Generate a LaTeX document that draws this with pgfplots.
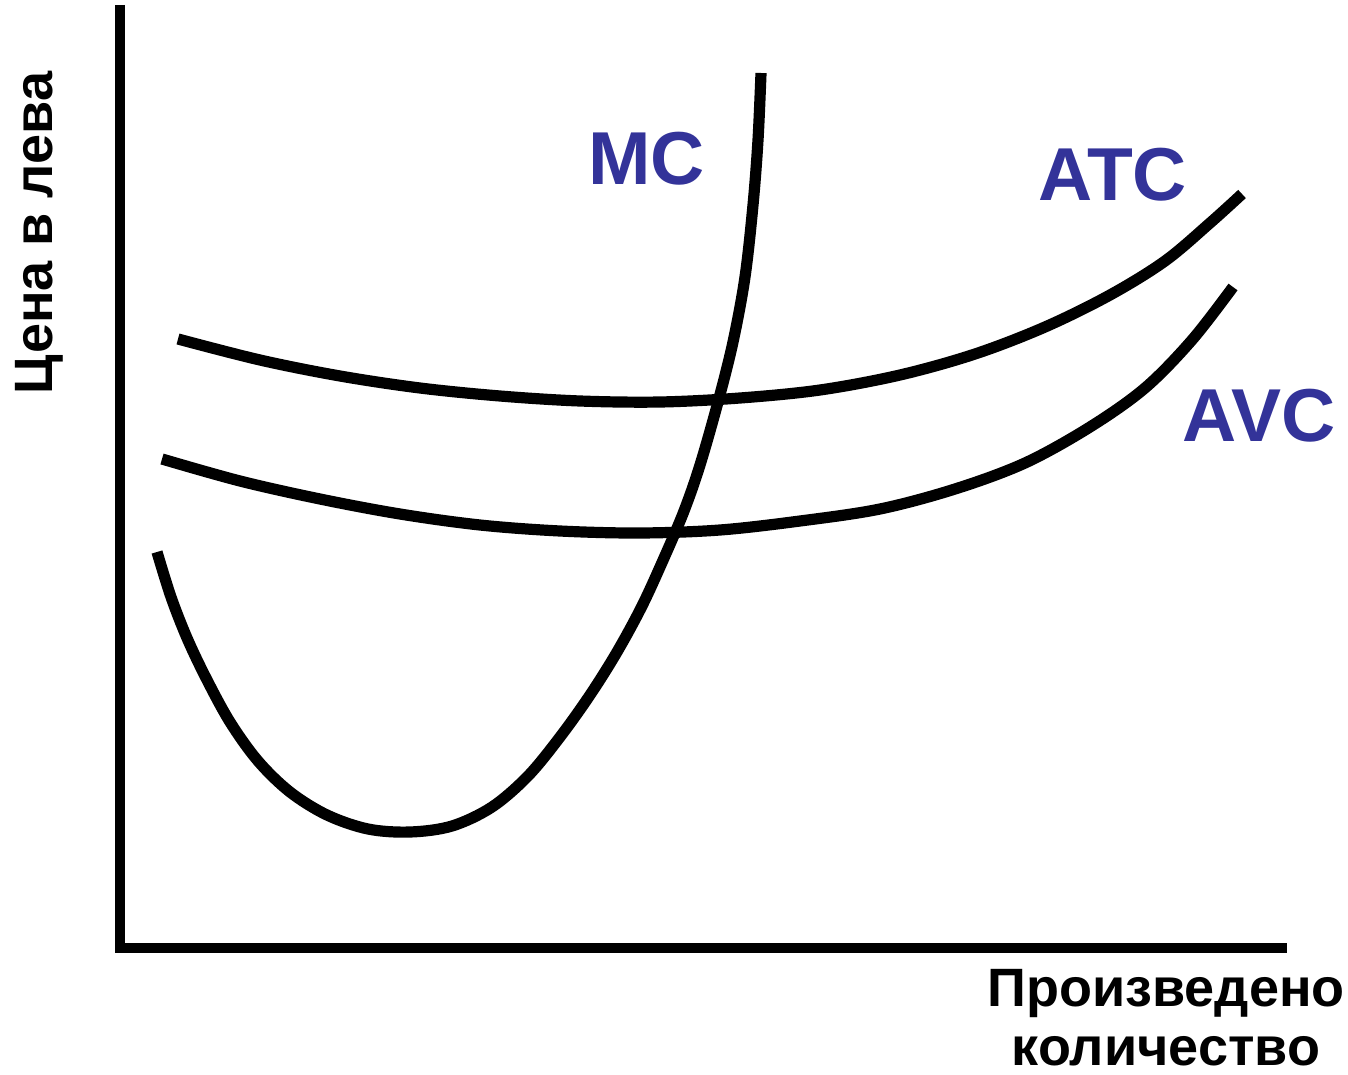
\documentclass[border=0pt]{standalone}
\usepackage{fontspec}
\setmainfont{Liberation Sans}
\usepackage{pgfplots}
\pgfplotsset{compat=1.18}
\definecolor{lblblue}{RGB}{51,51,153}
\begin{document}
\begin{tikzpicture}
\begin{axis}[
  scale only axis,
  width=674pt, height=537.5pt,
  xmin=0, xmax=1348, ymin=0, ymax=1075,
  y dir=reverse,
  hide axis,
  clip=false,
]
\path (axis cs:0,0) rectangle (axis cs:1348,1075);
% axes
\addplot[black, line width=5pt, line join=miter] coordinates {(120,5) (120,948) (1287,948)};
% MC
\addplot[black, line width=5.6pt, smooth, tension=0.55] coordinates {
(157,552) (171,597) (187,638) (206,678) (230,722) (258,761) (290,792) (327,815)
(368,829) (410,832) (452,826) (492,807) (528,776) (560,737) (590,695) (617,652)
(642,606) (664,558) (684,511) (700,465) (718,402) (733,342) (745,277) (753,205)
(758,140) (761,73)};
% ATC
\addplot[black, line width=5.6pt, smooth, tension=0.55] coordinates {
(178,339) (260,360) (340,376) (420,388) (500,396) (580,401) (660,402) (740,398)
(820,390) (900,375) (975,354) (1045,327) (1110,295) (1165,261) (1210,223) (1242,194)};
% AVC
\addplot[black, line width=5.6pt, smooth, tension=0.55] coordinates {
(162,459) (240,481) (320,499) (400,514) (480,525) (560,531) (640,533) (720,530)
(800,521) (880,509) (955,489) (1025,463) (1090,427) (1145,388) (1192,340) (1233,287)};
% labels
\node[anchor=base west, inner sep=0pt, text=lblblue, font=\fontsize{37.5pt}{40pt}\selectfont\bfseries] at (axis cs:588,185) {MC};
\node[anchor=base west, inner sep=0pt, text=lblblue, font=\fontsize{37.5pt}{40pt}\selectfont\bfseries] at (axis cs:1038,201) {ATC};
\node[anchor=base west, inner sep=0pt, text=lblblue, font=\fontsize{37.5pt}{40pt}\selectfont\bfseries] at (axis cs:1182,441) {AVC};
\node[anchor=base, inner sep=0pt, font=\fontsize{27pt}{30pt}\selectfont\bfseries] at (axis cs:1166,1006) {Произведено};
\node[anchor=base, inner sep=0pt, font=\fontsize{27pt}{30pt}\selectfont\bfseries] at (axis cs:1166,1065) {количество};
\node[anchor=base, rotate=90, inner sep=0pt, font=\fontsize{27pt}{30pt}\selectfont\bfseries] at (axis cs:52,233) {Цена в лева};
\end{axis}
\end{tikzpicture}
\end{document}
